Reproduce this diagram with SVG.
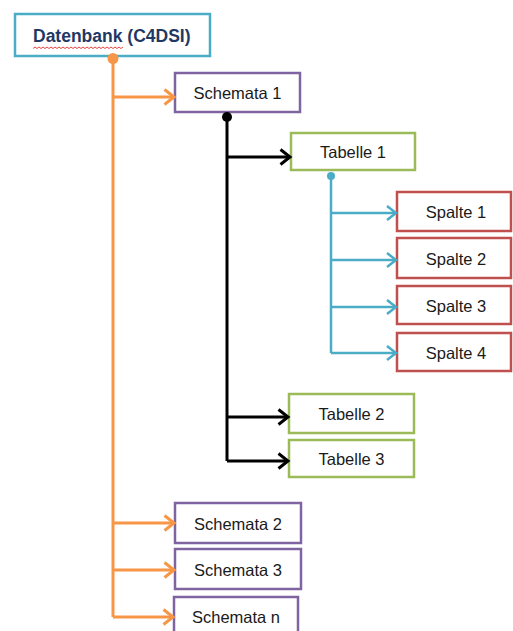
<svg xmlns="http://www.w3.org/2000/svg" width="513" height="631" viewBox="0 0 513 631">
<style>
.box{fill:#fff;stroke-width:2.5}
.db{stroke:#4bacc6}
.sch{stroke:#8064a2}
.tab{stroke:#9bbb59}
.sp{stroke:#c0504d}
.t{font-family:"Liberation Sans",Arial,sans-serif;font-size:16.5px;fill:#1a1a1a;text-anchor:middle;dominant-baseline:central}
.dbt{font-family:"Liberation Sans",Arial,sans-serif;font-size:17.5px;font-weight:bold;fill:#1f3864;dominant-baseline:central}
.or{stroke:#f79646;stroke-width:3;fill:none}
.bk{stroke:#000;stroke-width:3;fill:none}
.tl{stroke:#4bacc6;stroke-width:2.5;fill:none}
</style>
<defs>
<marker id="ao" markerUnits="userSpaceOnUse" markerWidth="14" markerHeight="18" refX="11" refY="9" orient="auto" viewBox="0 0 14 18"><path d="M1.5,1.5 L11,9 L1.5,16.5" fill="none" stroke="#f79646" stroke-width="3"/></marker>
<marker id="ab" markerUnits="userSpaceOnUse" markerWidth="14" markerHeight="18" refX="11" refY="9" orient="auto" viewBox="0 0 14 18"><path d="M1.5,1.5 L11,9 L1.5,16.5" fill="none" stroke="#000" stroke-width="3"/></marker>
<marker id="at" markerUnits="userSpaceOnUse" markerWidth="14" markerHeight="18" refX="11" refY="9" orient="auto" viewBox="0 0 14 18"><path d="M2,2 L11,9 L2,16" fill="none" stroke="#4bacc6" stroke-width="2.5"/></marker>
</defs>
<g id="datenbank">
<rect class="box db" x="15" y="14" width="195" height="42"/>
<text class="dbt" x="33" y="36">Datenbank (C4DSI)</text>
<path d="M33,48.5 l2,-1.5 l2,1.5 l2,-1.5 l2,1.5 l2,-1.5 l2,1.5 l2,-1.5 l2,1.5 l2,-1.5 l2,1.5 l2,-1.5 l2,1.5 l2,-1.5 l2,1.5 l2,-1.5 l2,1.5 l2,-1.5 l2,1.5 l2,-1.5 l2,1.5 l2,-1.5 l2,1.5 l2,-1.5 l2,1.5 l2,-1.5 l2,1.5 l2,-1.5 l2,1.5 l2,-1.5 l2,1.5 l2,-1.5 l2,1.5 l2,-1.5 l2,1.5 l2,-1.5 l2,1.5 l2,-1.5 l2,1.5 l2,-1.5 l2,1.5 l2,-1.5 l2,1.5 l2,-1.5 l2,1.5 l2,-1.5" fill="none" stroke="#e03030" stroke-width="0.9"/>
</g>
<g id="schemata1"><rect class="box sch" x="175" y="73" width="125" height="39"/><text class="t" x="237.5" y="93">Schemata 1</text></g>
<g id="tabelle1"><rect class="box tab" x="291" y="133" width="124" height="37"/><text class="t" x="353" y="152">Tabelle 1</text></g>
<g id="spalte1"><rect class="box sp" x="397" y="192" width="114" height="39"/><text class="t" x="456" y="212">Spalte 1</text></g>
<g id="spalte2"><rect class="box sp" x="397" y="238" width="114" height="40"/><text class="t" x="456" y="258.5">Spalte 2</text></g>
<g id="spalte3"><rect class="box sp" x="397" y="286" width="114" height="38"/><text class="t" x="456" y="305.5">Spalte 3</text></g>
<g id="spalte4"><rect class="box sp" x="397" y="333" width="114" height="38"/><text class="t" x="456" y="352.5">Spalte 4</text></g>
<g id="tabelle2"><rect class="box tab" x="289" y="394" width="125" height="39"/><text class="t" x="351.5" y="414">Tabelle 2</text></g>
<g id="tabelle3"><rect class="box tab" x="289" y="440" width="125" height="37"/><text class="t" x="351.5" y="459">Tabelle 3</text></g>
<g id="schemata2"><rect class="box sch" x="175" y="503" width="126" height="40"/><text class="t" x="238" y="523.5">Schemata 2</text></g>
<g id="schemata3"><rect class="box sch" x="175" y="549" width="126" height="40"/><text class="t" x="238" y="570">Schemata 3</text></g>
<g id="schematan"><rect class="box sch" x="174" y="597" width="124" height="40"/><text class="t" x="236" y="617">Schemata n</text></g>
<g id="connectors">
<path class="or" d="M113,58 V617"/>
<path class="or" d="M113,97 H174" marker-end="url(#ao)"/>
<path class="or" d="M113,523 H174" marker-end="url(#ao)"/>
<path class="or" d="M113,570 H174" marker-end="url(#ao)"/>
<path class="or" d="M113,617 H173" marker-end="url(#ao)"/>
<circle cx="113" cy="58.5" r="5.5" fill="#f79646"/>
<path class="bk" d="M227,117 V461"/>
<path class="bk" d="M227,157 H290" marker-end="url(#ab)"/>
<path class="bk" d="M227,417 H288" marker-end="url(#ab)"/>
<path class="bk" d="M227,461 H288" marker-end="url(#ab)"/>
<circle cx="227" cy="117" r="5" fill="#000"/>
<path class="tl" d="M331,176 V353"/>
<path class="tl" d="M331,213 H396" marker-end="url(#at)"/>
<path class="tl" d="M331,260 H396" marker-end="url(#at)"/>
<path class="tl" d="M331,307 H396" marker-end="url(#at)"/>
<path class="tl" d="M331,353 H396" marker-end="url(#at)"/>
<circle cx="331" cy="176" r="4" fill="#4bacc6"/>
</g>
</svg>
